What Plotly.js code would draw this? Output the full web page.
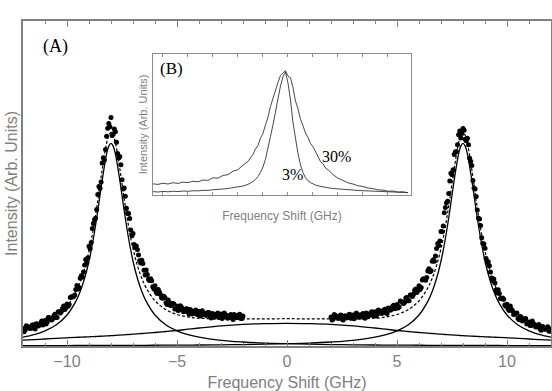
<!DOCTYPE html>
<html>
<head>
<meta charset="utf-8">
<script src="https://cdn.plot.ly/plotly-3.0.1.min.js"></script>
<style>
  html, body { margin: 0; padding: 0; background: #fff; }
  #chart { width: 552px; height: 391px; }
</style>
</head>
<body>
<div id="chart"></div>
<script>
// (A) measured spectrum, left and right wings (central part removed)
var dataXLeft = [
  -12.0,-11.95,-11.9,-11.85,-11.8,-11.75,-11.7,-11.65,-11.6,-11.55,-11.5,-11.45,-11.4,-11.35,-11.3,-11.25,-11.2,-11.15,-11.1,-11.05,
  -11.0,-10.95,-10.9,-10.85,-10.8,-10.75,-10.7,-10.65,-10.6,-10.55,-10.5,-10.45,-10.4,-10.35,-10.3,-10.25,-10.2,-10.15,-10.1,-10.05,
  -10.0,-9.95,-9.9,-9.85,-9.8,-9.75,-9.7,-9.65,-9.6,-9.55,-9.5,-9.45,-9.4,-9.35,-9.3,-9.25,-9.2,-9.15,-9.1,-9.05,
  -9.0,-8.95,-8.9,-8.85,-8.8,-8.75,-8.7,-8.65,-8.6,-8.55,-8.5,-8.45,-8.4,-8.35,-8.3,-8.25,-8.2,-8.15,-8.1,-8.05,
  -8.0,-7.95,-7.9,-7.85,-7.8,-7.75,-7.7,-7.65,-7.6,-7.55,-7.5,-7.45,-7.4,-7.35,-7.3,-7.25,-7.2,-7.15,-7.1,-7.05,
  -7.0,-6.95,-6.9,-6.85,-6.8,-6.75,-6.7,-6.65,-6.6,-6.55,-6.5,-6.45,-6.4,-6.35,-6.3,-6.25,-6.2,-6.15,-6.1,-6.05,
  -6.0,-5.95,-5.9,-5.85,-5.8,-5.75,-5.7,-5.65,-5.6,-5.55,-5.5,-5.45,-5.4,-5.35,-5.3,-5.25,-5.2,-5.15,-5.1,-5.05,
  -5.0,-4.95,-4.9,-4.85,-4.8,-4.75,-4.7,-4.65,-4.6,-4.55,-4.5,-4.45,-4.4,-4.35,-4.3,-4.25,-4.2,-4.15,-4.1,-4.05,
  -4.0,-3.95,-3.9,-3.85,-3.8,-3.75,-3.7,-3.65,-3.6,-3.55,-3.5,-3.45,-3.4,-3.35,-3.3,-3.25,-3.2,-3.15,-3.1,-3.05,
  -3.0,-2.95,-2.9,-2.85,-2.8,-2.75,-2.7,-2.65,-2.6,-2.55,-2.5,-2.45,-2.4,-2.35,-2.3,-2.25,-2.2,-2.15,-2.1,-2.05,
  -2.0];
var dataYLeft = [
  17.5,14.3,16.0,20.3,19.6,18.5,17.8,17.6,20.4,21.3,18.1,17.0,22.3,21.7,20.1,21.1,23.1,25.1,21.0,22.0,
  25.5,22.0,24.0,28.6,28.2,27.4,26.1,27.3,30.0,31.8,28.5,28.4,34.2,34.2,33.1,34.7,37.7,39.9,36.5,38.3,
  42.1,39.8,41.5,48.6,49.3,49.0,49.4,50.9,56.6,60.4,56.9,58.5,67.8,70.3,69.0,74.0,81.1,86.6,83.3,88.3,
  99.7,97.3,103.4,117.6,122.4,126.4,127.8,136.4,151.4,159.5,157.8,164.0,183.0,188.2,186.0,196.6,209.7,217.7,222.6,219.2,
  228.5,210.4,211.9,217.1,214.3,203.8,192.5,188.1,189.4,181.3,166.3,157.0,158.1,149.7,137.8,132.9,132.6,127.5,115.9,110.3,
  112.5,101.6,98.4,100.1,96.5,91.0,85.2,83.1,85.8,82.4,75.7,71.1,76.1,71.6,66.7,65.4,67.3,65.2,59.3,57.0,
  60.2,54.1,52.5,56.5,53.9,51.4,48.3,47.8,49.7,48.5,43.3,41.5,46.1,43.8,40.5,40.8,42.5,42.3,37.1,37.3,
  40.0,35.6,36.1,40.3,38.9,37.1,34.2,34.9,37.1,37.3,34.0,31.8,36.5,35.3,32.1,33.4,34.6,35.9,31.7,31.5,
  34.8,30.1,30.4,35.3,33.6,32.5,30.8,30.7,33.5,33.4,29.7,28.1,32.5,31.9,28.7,30.1,31.5,32.9,28.8,28.7,
  32.1,27.6,29.0,33.0,31.4,30.3,27.7,28.7,30.6,31.6,28.0,26.5,31.4,30.4,28.3,28.8,30.7,31.7,27.6,27.6,
  30.1];
var dataXRight = [
  2.0,2.05,2.1,2.15,2.2,2.25,2.3,2.35,2.4,2.45,2.5,2.55,2.6,2.65,2.7,2.75,2.8,2.85,2.9,2.95,
  3.0,3.05,3.1,3.15,3.2,3.25,3.3,3.35,3.4,3.45,3.5,3.55,3.6,3.65,3.7,3.75,3.8,3.85,3.9,3.95,
  4.0,4.05,4.1,4.15,4.2,4.25,4.3,4.35,4.4,4.45,4.5,4.55,4.6,4.65,4.7,4.75,4.8,4.85,4.9,4.95,
  5.0,5.05,5.1,5.15,5.2,5.25,5.3,5.35,5.4,5.45,5.5,5.55,5.6,5.65,5.7,5.75,5.8,5.85,5.9,5.95,
  6.0,6.05,6.1,6.15,6.2,6.25,6.3,6.35,6.4,6.45,6.5,6.55,6.6,6.65,6.7,6.75,6.8,6.85,6.9,6.95,
  7.0,7.05,7.1,7.15,7.2,7.25,7.3,7.35,7.4,7.45,7.5,7.55,7.6,7.65,7.7,7.75,7.8,7.85,7.9,7.95,
  8.0,8.05,8.1,8.15,8.2,8.25,8.3,8.35,8.4,8.45,8.5,8.55,8.6,8.65,8.7,8.75,8.8,8.85,8.9,8.95,
  9.0,9.05,9.1,9.15,9.2,9.25,9.3,9.35,9.4,9.45,9.5,9.55,9.6,9.65,9.7,9.75,9.8,9.85,9.9,9.95,
  10.0,10.05,10.1,10.15,10.2,10.25,10.3,10.35,10.4,10.45,10.5,10.55,10.6,10.65,10.7,10.75,10.8,10.85,10.9,10.95,
  11.0,11.05,11.1,11.15,11.2,11.25,11.3,11.35,11.4,11.45,11.5,11.55,11.6,11.65,11.7,11.75,11.8,11.85,11.9,11.95,
  12.0];
var dataYRight = [
  29.1,26.1,27.1,31.6,30.6,29.2,27.7,27.8,30.3,30.9,26.9,26.0,30.0,30.1,28.1,28.7,31.2,31.8,27.8,27.9,
  31.0,27.2,28.8,32.9,32.0,30.6,28.7,29.3,31.4,32.5,28.6,27.8,32.9,32.1,30.2,30.9,33.0,34.2,30.4,30.6,
  34.3,30.1,31.8,36.1,35.3,34.1,32.4,33.2,35.9,36.7,33.0,32.5,37.9,37.4,35.8,36.8,39.8,40.8,37.3,37.9,
  41.5,38.1,39.2,44.9,44.5,43.8,42.5,43.8,48.1,48.5,45.3,45.2,51.1,51.1,49.6,51.7,55.7,56.9,53.6,55.4,
  60.2,56.6,58.5,66.1,67.2,66.5,65.8,68.4,74.9,77.3,74.2,75.3,84.8,86.3,84.7,90.1,97.5,102.5,100.4,104.9,
  114.5,114.2,119.9,133.2,138.6,143.2,144.8,152.5,165.1,172.7,171.3,176.3,191.4,194.1,194.5,201.3,211.3,215.1,207.9,212.4,
  217.6,215.8,206.7,205.3,207.8,201.2,187.8,184.8,180.4,165.6,157.9,157.1,149.4,136.0,127.8,127.0,120.4,108.2,102.4,101.9,
  97.7,87.4,83.4,84.2,80.2,74.1,68.1,65.4,66.9,63.1,56.0,53.1,56.2,52.6,47.5,47.2,47.9,46.7,41.1,39.7,
  41.7,36.9,35.6,40.0,36.8,35.2,31.6,31.7,32.7,32.9,27.5,26.3,29.5,28.8,25.1,25.9,26.7,27.6,22.0,22.5,
  24.0,20.5,20.5,25.1,22.6,21.6,19.1,19.2,20.8,21.5,17.1,15.8,19.4,19.1,16.8,17.0,18.1,19.3,15.0,14.8,
  17.0];

// fitted components
var curveX = [-12,-11.5,-11,-10.5,-10,-9.6,-9.4,-9.2,-9,-8.8,-8.6,-8.4,-8.2,-8.1,-8,
  -7.9,-7.8,-7.6,-7.4,-7.2,-7,-6.8,-6.6,-6.4,-6,-5.5,-5,-4.5,-4,-3,-2,-1,
  0,1,2,3,4,4.5,5,5.5,6,6.4,6.6,6.8,7,7.2,7.4,7.6,7.8,7.9,
  8,8.1,8.2,8.4,8.6,8.8,9,9.2,9.4,9.6,10,10.5,11,11.5,12];
var peakLeft = [8.8,11.3,15.1,21.0,31.0,44.6,54.6,67.7,85.0,107.5,135.3,165.9,192.1,199.9,202.7,
  199.9,192.1,165.9,135.3,107.5,85.0,67.7,54.6,44.6,31.0,21.0,15.1,11.3,8.8,5.7,4.0,2.9,
  2.3,1.8,1.45,1.2,1.0,0.93,0.86,0.8,0.74,0.7,0.69,0.67,0.65,0.64,0.62,0.61,0.59,0.58,
  0.57,0.57,0.56,0.55,0.54,0.53,0.51,0.5,0.49,0.48,0.45,0.43,0.4,0.38,0.37];
var peakRight = [0.37,0.38,0.4,0.43,0.45,0.48,0.49,0.5,0.51,0.53,0.54,0.55,0.56,0.57,0.57,
  0.58,0.59,0.61,0.62,0.64,0.65,0.67,0.69,0.7,0.74,0.8,0.86,0.93,1.0,1.2,1.45,1.8,
  2.3,2.9,4.0,5.7,8.8,11.3,15.1,21.0,31.0,44.6,54.6,67.7,85.0,107.5,135.3,165.9,192.1,199.9,
  202.7,199.9,192.1,165.9,135.3,107.5,85.0,67.7,54.6,44.6,31.0,21.0,15.1,11.3,8.8];
var central = [5.8,6.4,7.0,7.6,8.2,8.6,8.8,9.0,9.2,9.4,9.6,9.9,10.1,10.2,10.3,
  10.45,10.6,10.9,11.2,11.5,11.8,12.1,12.5,12.8,13.5,14.5,15.5,16.8,18.0,20.2,21.7,22.4,
  22.7,22.4,21.7,20.2,18.0,16.8,15.5,14.5,13.5,12.8,12.5,12.1,11.8,11.5,11.2,10.9,10.6,10.45,
  10.3,10.2,10.1,9.9,9.6,9.4,9.2,9.0,8.8,8.6,8.2,7.6,7.0,6.4,5.8];
var totalFit = [15.0,18.1,22.5,29.0,39.7,53.7,63.9,77.2,94.7,117.4,145.4,176.4,202.8,210.7,213.6,
  210.9,203.3,177.4,147.1,119.6,97.5,80.5,67.8,58.1,45.2,36.3,31.5,29.0,27.8,27.1,27.2,27.1,
  27.3,27.1,27.2,27.1,27.8,29.0,31.5,36.3,45.2,58.1,67.8,80.5,97.5,119.6,147.1,177.4,203.3,210.9,
  213.6,210.7,202.8,176.4,145.4,117.4,94.7,77.2,63.9,53.7,39.7,29.0,22.5,18.1,15.0];

// (B) inset: central line for 3% and 30%
var insetX = [-5.4,-5.2,-5.0,-4.8,-4.6,-4.4,-4.2,-4.0,-3.8,-3.6,-3.4,-3.2,-3.0,-2.8,-2.6,-2.4,-2.2,-2.0,-1.8,
  -1.6,-1.5,-1.4,-1.3,-1.2,-1.1,-1.0,-0.9,-0.8,-0.7,-0.6,-0.5,-0.4,-0.3,-0.2,-0.1,0,
  0.1,0.2,0.3,0.4,0.5,0.6,0.7,0.8,0.9,1.0,1.1,1.2,1.3,1.4,1.5,1.6,
  1.8,2.0,2.2,2.4,2.6,2.8,3.0,3.2,3.4,3.6,3.8,4.0,4.2,4.4,4.6,4.8];
var broad30 = [11.2,10.6,11.8,11.0,12.3,11.6,12.9,12.4,13.8,13.2,15.0,14.6,17.2,16.8,19.6,20.3,23.8,25.4,29.8,
  33.5,37.2,40.6,46.0,49.5,56.8,61.5,70.2,77.6,88.5,96.8,106.4,112.6,119.5,121.8,124.5,119.0,
  117.2,107.5,94.0,86.2,75.8,69.4,62.0,57.5,51.6,48.2,42.5,38.6,33.4,31.2,27.0,25.3,
  20.4,16.8,14.6,12.2,11.0,9.2,8.6,7.0,6.4,5.2,4.9,3.8,4.0,2.9,3.2,2.2];
var narrow3 = [3.4,3.0,3.6,3.2,3.8,3.4,4.0,3.7,4.3,4.1,4.7,4.6,5.3,5.4,6.0,6.5,7.1,7.9,9.0,
  10.6,11.8,13.5,15.6,18.4,22.5,28.0,35.8,46.0,58.5,70.2,84.0,97.5,109.0,118.2,123.0,112.0,
  95.0,72.5,55.0,41.5,30.2,22.4,17.3,14.2,12.4,11.0,10.0,9.2,8.6,8.0,7.6,7.2,
  6.5,6.0,5.6,5.2,4.9,4.6,4.3,4.1,3.9,3.6,3.5,3.2,3.0,2.9,2.6,2.4];

var xTickVals = [-10, -5, 0, 5, 10];
var xTickText = ['\u221210', '\u22125', '0', '5', '10'];

var gray = '#808080';
var dots = {mode: 'markers', type: 'scatter', marker: {color: '#000', size: 5}, hoverinfo: 'skip'};

var traces = [
  Object.assign({x: dataXLeft, y: dataYLeft}, dots),
  Object.assign({x: dataXRight, y: dataYRight}, dots),
  {x: curveX, y: totalFit, mode: 'lines', type: 'scatter',
   line: {color: '#000', width: 1.2, dash: '3px,2px', shape: 'spline'}},
  {x: curveX, y: peakLeft, mode: 'lines', type: 'scatter',
   line: {color: '#000', width: 1.3, shape: 'spline'}},
  {x: curveX, y: peakRight, mode: 'lines', type: 'scatter',
   line: {color: '#000', width: 1.3, shape: 'spline'}},
  {x: curveX, y: central, mode: 'lines', type: 'scatter',
   line: {color: '#000', width: 1.3, shape: 'spline'}},
  // inset
  {x: insetX, y: broad30, xaxis: 'x2', yaxis: 'y2', mode: 'lines', type: 'scatter',
   line: {color: '#333', width: 0.9}},
  {x: insetX, y: narrow3, xaxis: 'x2', yaxis: 'y2', mode: 'lines', type: 'scatter',
   line: {color: '#333', width: 0.9}}
];

var serif = 'Liberation Serif, Times New Roman, serif';
var layout = {
  width: 552,
  height: 391,
  margin: {l: 23, r: 1, t: 21, b: 45},
  paper_bgcolor: '#fff',
  plot_bgcolor: '#fff',
  showlegend: false,
  font: {family: 'Liberation Sans, Arial, sans-serif', color: gray},
  xaxis: {
    range: [-12, 12],
    tickvals: xTickVals,
    ticktext: xTickText,
    ticks: 'inside', ticklen: 6, tickwidth: 1, tickcolor: gray,
    minor: {dtick: 1, ticks: 'inside', ticklen: 3, tickcolor: gray},
    showline: true, linecolor: gray, linewidth: 1.6, mirror: 'ticks',
    showgrid: false, zeroline: false,
    tickfont: {size: 16, color: gray},
    title: {text: 'Frequency Shift (GHz)', font: {size: 16, color: gray}, standoff: 8}
  },
  yaxis: {
    range: [0, 325],
    showticklabels: false, ticks: '',
    showline: true, linecolor: gray, linewidth: 1.6, mirror: true,
    showgrid: false, zeroline: false,
    title: {text: 'Intensity (Arb. Units)', font: {size: 16, color: gray}, standoff: 0}
  },
  xaxis2: {
    domain: [0.2462, 0.7348], anchor: 'y2',
    range: [-5.4, 4.92],
    showticklabels: false,
    ticks: 'inside', ticklen: 3, tick0: 0, dtick: 1, tickcolor: '#8c8c8c',
    showline: true, linecolor: '#8c8c8c', linewidth: 1, mirror: 'ticks',
    showgrid: false, zeroline: false,
    title: {text: 'Frequency Shift (GHz)', font: {size: 12, color: gray}, standoff: 16}
  },
  yaxis2: {
    domain: [0.4646, 0.8985], anchor: 'x2',
    range: [0, 141],
    showticklabels: false, ticks: '',
    showline: true, linecolor: '#8c8c8c', linewidth: 1, mirror: true,
    showgrid: false, zeroline: false,
    title: {text: 'Intensity (Arb. Units)', font: {size: 11, color: gray}, standoff: 2}
  },
  annotations: [
    {xref: 'paper', yref: 'paper', x: 0.0621, y: 0.923, text: '(A)', showarrow: false,
     xanchor: 'center', yanchor: 'middle', font: {family: serif, size: 18, color: '#000'}},
    {xref: 'paper', yref: 'paper', x: 0.2809, y: 0.8545, text: '(B)', showarrow: false,
     xanchor: 'center', yanchor: 'middle', font: {family: serif, size: 17, color: '#000'}},
    {xref: 'paper', yref: 'paper', x: 0.5941, y: 0.5825, text: '30%', showarrow: false,
     xanchor: 'center', yanchor: 'middle', font: {family: serif, size: 16, color: '#000'}},
    {xref: 'paper', yref: 'paper', x: 0.5104, y: 0.5262, text: '3%', showarrow: false,
     xanchor: 'center', yanchor: 'middle', font: {family: serif, size: 16, color: '#000'}}
  ]
};

Plotly.newPlot('chart', traces, layout, {displayModeBar: false, staticPlot: true});
</script>
</body>
</html>
